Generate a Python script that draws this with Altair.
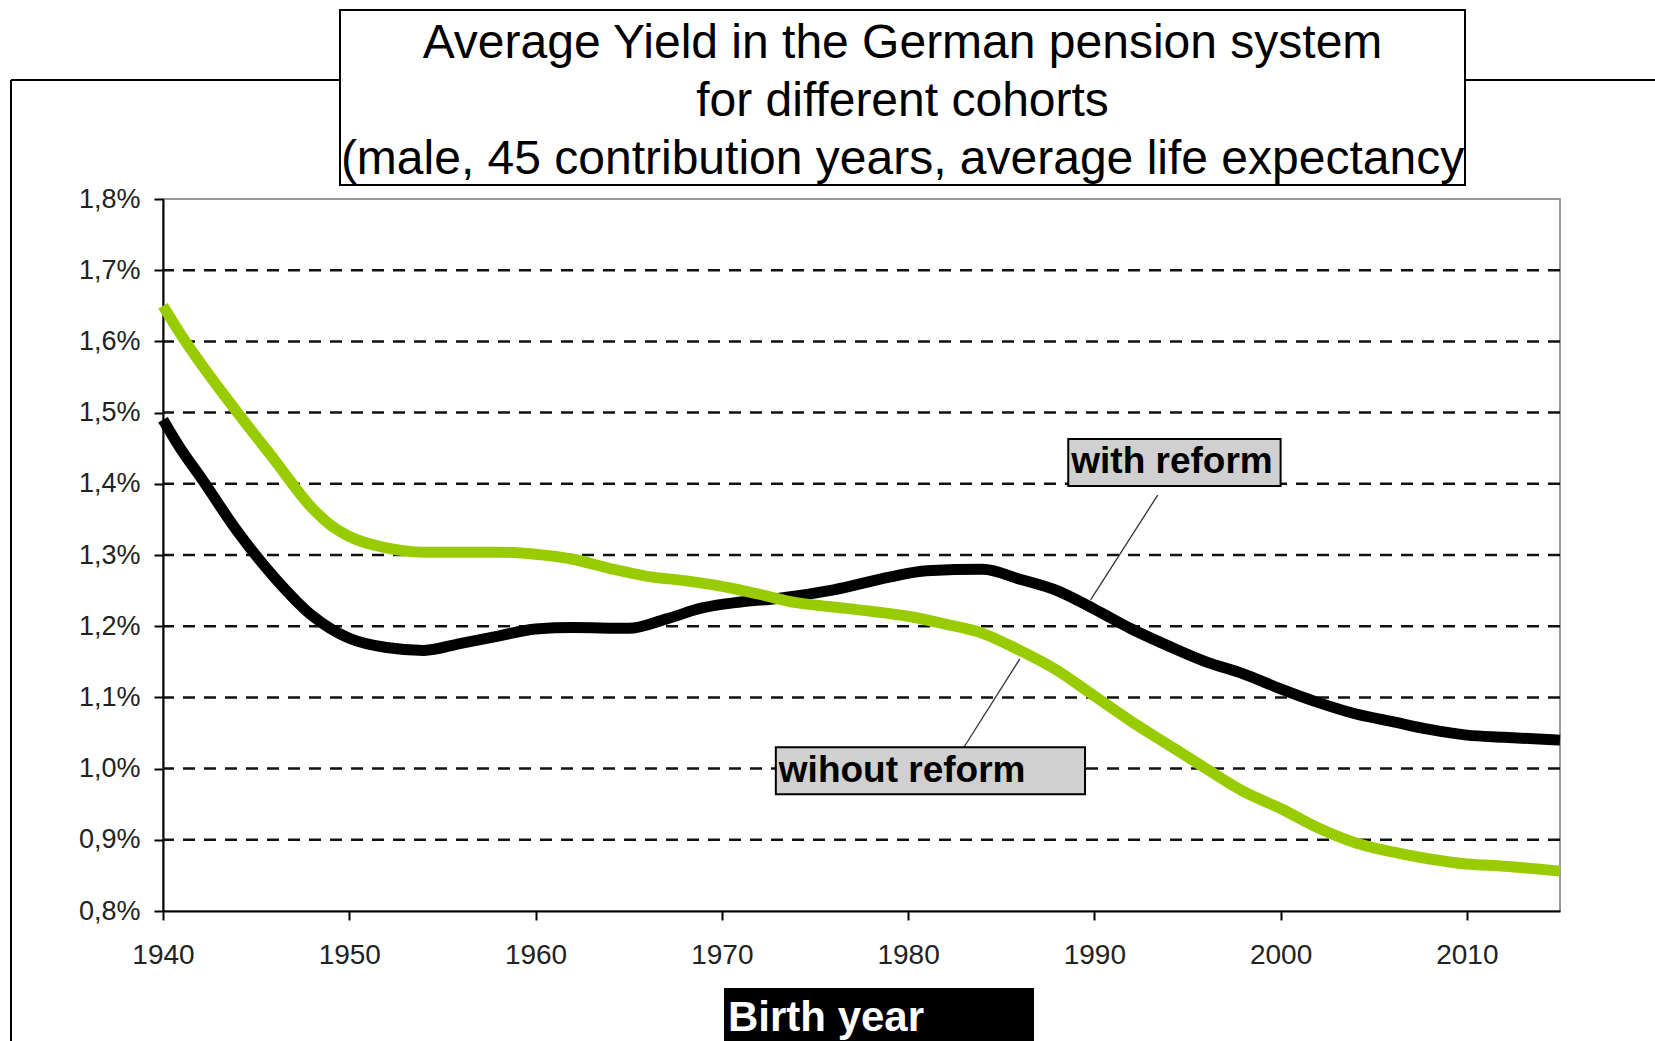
import altair as alt
import pandas as pd

# Average yield (% p.a.) of the statutory pension by birth cohort
reform_years = [1940, 1941, 1942, 1944, 1946, 1948, 1950, 1952, 1954, 1956, 1958,
                1960, 1962, 1965, 1967, 1969, 1971, 1973, 1976, 1979, 1981, 1984,
                1986, 1988, 1990, 1992, 1994, 1996, 1998, 2000, 2002, 2004, 2006,
                2008, 2010, 2012, 2015]
reform_yield = [1.490, 1.447, 1.410, 1.333, 1.268, 1.215, 1.183, 1.170, 1.166, 1.176,
                1.186, 1.196, 1.198, 1.197, 1.210, 1.226, 1.234, 1.239, 1.251, 1.269,
                1.278, 1.280, 1.266, 1.250, 1.224, 1.196, 1.172, 1.150, 1.133, 1.112,
                1.093, 1.077, 1.066, 1.055, 1.047, 1.044, 1.040]

no_reform_years = [1940, 1941, 1942, 1944, 1946, 1948, 1949, 1950, 1952, 1954, 1956,
                   1958, 1960, 1962, 1964, 1966, 1968, 1970, 1972, 1974, 1976, 1978,
                   1980, 1982, 1984, 1986, 1988, 1990, 1992, 1994, 1996, 1998, 2000,
                   2002, 2004, 2006, 2008, 2010, 2012, 2015]
no_reform_yield = [1.650, 1.608, 1.570, 1.500, 1.433, 1.366, 1.342, 1.326, 1.310, 1.304,
                   1.304, 1.304, 1.301, 1.294, 1.281, 1.270, 1.264, 1.256, 1.245, 1.233,
                   1.227, 1.221, 1.214, 1.203, 1.190, 1.166, 1.138, 1.102, 1.066, 1.033,
                   1.000, 0.968, 0.944, 0.917, 0.896, 0.883, 0.873, 0.866, 0.863, 0.856]

x_ticks = [1940, 1950, 1960, 1970, 1980, 1990, 2000, 2010]
y_ticks = [0.8, 0.9, 1.0, 1.1, 1.2, 1.3, 1.4, 1.5, 1.6, 1.7, 1.8]
grid_values = [0.9, 1.0, 1.1, 1.2, 1.3, 1.4, 1.5, 1.6, 1.7]

title_lines = ["Average Yield in the German pension system",
               "for different cohorts",
               "(male, 45 contribution years, average life expectancy"]
x_title = "Birth year"

# Series labels: box corners and leader lines, in data units
label_text = ["with reform", "wihout reform"]
label_x0 = [1988.6, 1972.9]
label_x1 = [2000.0, 1989.5]
label_y0 = [1.463, 1.030]
label_y1 = [1.397, 0.964]
leader_x0 = [1993.4, 1986.0]
leader_y0 = [1.384, 1.154]
leader_x1 = [1989.8, 1983.0]
leader_y1 = [1.237, 1.030]

FONT = "Liberation Sans"

reform = pd.DataFrame({"year": reform_years, "yield": reform_yield})
no_reform = pd.DataFrame({"year": no_reform_years, "yield": no_reform_yield})
grid = pd.DataFrame({"v": grid_values})
labels = pd.DataFrame({
    "text": label_text, "x0": label_x0, "x1": label_x1,
    "y0": label_y0, "y1": label_y1,
    "ym": [(a + b) / 2 for a, b in zip(label_y0, label_y1)],
})
leaders = pd.DataFrame({"x0": leader_x0, "y0": leader_y0,
                        "x1": leader_x1, "y1": leader_y1})

x_scale = alt.Scale(domain=[1940, 2015], nice=False, zero=False)
y_scale = alt.Scale(domain=[0.8, 1.8], nice=False, zero=False)

# One axis definition shared by every layer, so the layers merge into one axis
x_axis = alt.Axis(values=x_ticks, format="d", title=None, grid=False,
                  labelPadding=21, labelFlush=False, labelFontSize=28)
y_axis = alt.Axis(values=y_ticks, title=None, grid=False, labelPadding=14,
                  labelFlush=False, labelFontSize=27,
                  labelExpr="replace(format(datum.value, '.1f'), '.', ',') + '%'")


def X(field):
    return alt.X(field, scale=x_scale, axis=x_axis)


def Y(field):
    return alt.Y(field, scale=y_scale, axis=y_axis)


gridlines = alt.Chart(grid).mark_rule(
    color="#111111", strokeWidth=2.5, strokeDash=[12, 9]
).encode(y=Y("v:Q"))

line_reform = alt.Chart(reform).mark_line(
    color="#000000", strokeWidth=11, interpolate="monotone"
).encode(x=X("year:Q"), y=Y("yield:Q"))

line_no_reform = alt.Chart(no_reform).mark_line(
    color="#99cc00", strokeWidth=11, interpolate="monotone"
).encode(x=X("year:Q"), y=Y("yield:Q"))

leader_lines = alt.Chart(leaders).mark_rule(
    color="#333333", strokeWidth=1.3
).encode(x=X("x0:Q"), x2="x1:Q", y=Y("y0:Q"), y2="y1:Q")

label_boxes = alt.Chart(labels).mark_rect(
    fill="#d0d0d0", stroke="#000000", strokeWidth=2
).encode(x=X("x0:Q"), x2="x1:Q", y=Y("y0:Q"), y2="y1:Q")

label_texts = alt.Chart(labels).mark_text(
    align="left", baseline="middle", dx=3, font=FONT, fontSize=37,
    fontWeight="bold", color="#000000"
).encode(x=X("x0:Q"), y=Y("ym:Q"), text="text:N")

one = alt.Data(values=[{}])

# Outer frame of the slide panel (top edge and left edge)
frame_top = alt.Chart(one).mark_rule(color="#000000", strokeWidth=2).encode(
    x=alt.value(-152), x2=alt.value(1492), y=alt.value(-119))
frame_left = alt.Chart(one).mark_rule(color="#000000", strokeWidth=2).encode(
    x=alt.value(-152), y=alt.value(-119), y2=alt.value(842))

title_box = alt.Chart(one).mark_rect(
    fill="#ffffff", stroke="#000000", strokeWidth=2
).encode(x=alt.value(177), x2=alt.value(1302), y=alt.value(-189), y2=alt.value(-14))

title_text = alt.Chart(one).mark_text(
    align="center", baseline="alphabetic", font=FONT, fontSize=48,
    lineHeight=58, color="#000000"
).encode(x=alt.value(739.5), y=alt.value(-141), text=alt.value(title_lines))

xtitle_box = alt.Chart(one).mark_rect(fill="#000000").encode(
    x=alt.value(561), x2=alt.value(871), y=alt.value(789), y2=alt.value(845))
xtitle_text = alt.Chart(one).mark_text(
    align="left", baseline="alphabetic", font=FONT, fontSize=42,
    fontWeight="bold", color="#ffffff"
).encode(x=alt.value(565), y=alt.value(832), text=alt.value(x_title))

chart = alt.layer(
    gridlines, line_reform, line_no_reform, leader_lines, label_boxes,
    label_texts, frame_top, frame_left, title_box, title_text,
    xtitle_box, xtitle_text,
).properties(
    width=1397, height=712,
    autosize=alt.AutoSizeParams(type="none"),
    padding={"left": 163, "top": 199, "right": 95, "bottom": 130},
    background="#ffffff",
).configure_view(
    stroke="#9a9a9a", strokeWidth=2
).configure_axis(
    domainColor="#000000", domainWidth=2, tickColor="#000000", tickWidth=2,
    tickSize=9, labelFont=FONT, labelColor="#222222",
)

chart.save("out.html", embed_options={"renderer": "svg", "actions": False})
